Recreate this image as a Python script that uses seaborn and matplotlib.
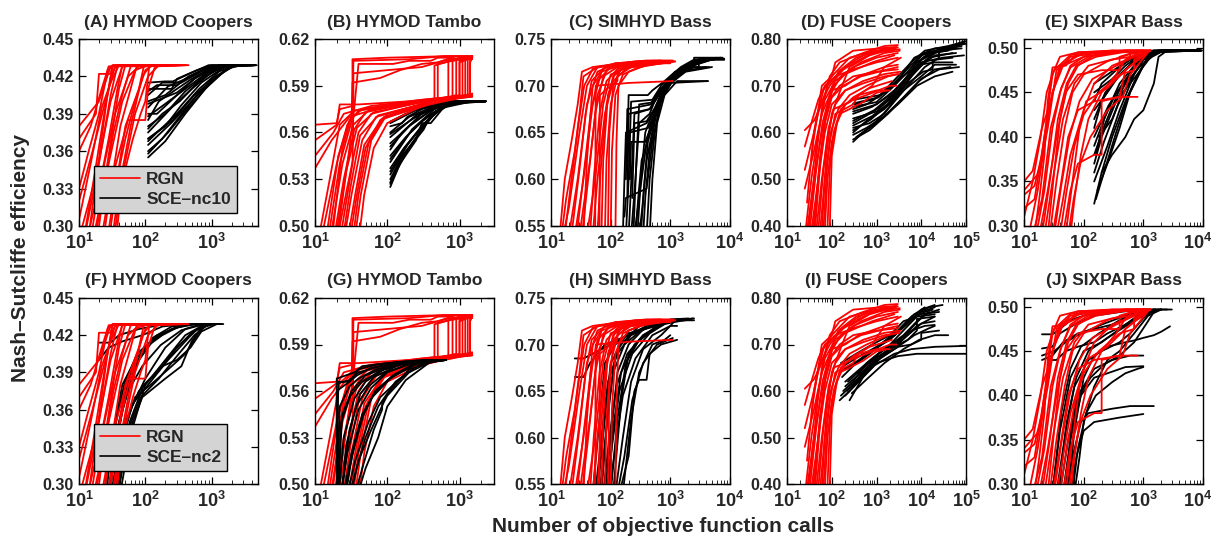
import math

import matplotlib
matplotlib.use("Agg")
import matplotlib.pyplot as plt
import pandas as pd
import seaborn as sns
from matplotlib.lines import Line2D
from matplotlib.ticker import FixedLocator, FuncFormatter, FormatStrFormatter, LogLocator, NullFormatter
from matplotlib.transforms import ScaledTranslation

# Best-so-far Nash-Sutcliffe efficiency against objective function calls.
# Each run is a list of (calls, NSE) breakpoints.

hymod_coopers_rgn = [
    [(10, 0.38), (20, 0.40), (30, 0.428), (120, 0.429)],
    [(10, 0.37), (18, 0.39), (20, 0.422), (30, 0.422), (32, 0.429), (90, 0.429)],
    [(10, 0.36), (15, 0.38), (22, 0.41), (28, 0.428), (60, 0.429)],
    [(10, 0.32), (16, 0.36), (25, 0.40), (35, 0.428), (200, 0.429)],
    [(10, 0.29), (18, 0.34), (30, 0.40), (45, 0.428), (150, 0.429)],
    [(12, 0.28), (22, 0.34), (35, 0.39), (55, 0.42), (80, 0.428), (300, 0.429)],
    [(15, 0.28), (28, 0.35), (45, 0.40), (70, 0.425), (110, 0.429), (450, 0.429)],
    [(20, 0.28), (32, 0.34), (55, 0.385), (100, 0.385), (110, 0.41), (140, 0.428), (400, 0.429)],
    [(25, 0.28), (35, 0.33), (50, 0.37), (70, 0.40), (100, 0.425), (130, 0.429), (250, 0.429)],
    [(30, 0.28), (40, 0.33), (60, 0.38), (90, 0.42), (120, 0.429), (350, 0.429)],
    [(12, 0.29), (20, 0.35), (30, 0.405), (38, 0.429), (80, 0.429)],
    [(18, 0.28), (25, 0.34), (40, 0.41), (50, 0.429), (180, 0.429)],
    [(35, 0.28), (45, 0.34), (70, 0.39), (110, 0.42), (160, 0.429), (300, 0.429)],
    [(10, 0.33), (14, 0.36), (20, 0.39), (27, 0.425), (33, 0.429), (100, 0.429)],
    [(11, 0.28), (17, 0.34), (24, 0.39), (30, 0.42), (36, 0.429), (130, 0.429)],
    [(14, 0.28), (20, 0.33), (28, 0.37), (38, 0.41), (45, 0.429), (220, 0.429)],
    [(16, 0.28), (24, 0.33), (33, 0.375), (45, 0.405), (60, 0.428), (280, 0.429)],
    [(22, 0.28), (30, 0.33), (42, 0.38), (60, 0.41), (75, 0.429), (320, 0.429)],
    [(27, 0.28), (38, 0.34), (50, 0.38), (80, 0.41), (95, 0.428), (420, 0.429)],
    [(10, 0.305), (15, 0.35), (22, 0.395), (30, 0.415), (40, 0.429), (170, 0.429)],
    [(32, 0.28), (42, 0.33), (65, 0.37), (85, 0.39), (100, 0.40), (115, 0.429), (200, 0.429)],
    [(13, 0.28), (19, 0.345), (26, 0.40), (32, 0.428), (70, 0.429)],
]

hymod_coopers_sce10 = [
    [(110, 0.41), (250, 0.41), (300, 0.418), (600, 0.425), (1000, 0.429), (4500, 0.429)],
    [(110, 0.40), (200, 0.405), (400, 0.418), (800, 0.426), (1500, 0.429), (4000, 0.429)],
    [(110, 0.39), (150, 0.39), (300, 0.405), (600, 0.42), (1200, 0.428), (3000, 0.429)],
    [(110, 0.38), (200, 0.39), (400, 0.408), (900, 0.423), (2000, 0.429), (4200, 0.429)],
    [(110, 0.37), (200, 0.38), (350, 0.397), (700, 0.415), (1500, 0.427), (2500, 0.429), (4500, 0.429)],
    [(110, 0.36), (180, 0.37), (300, 0.385), (600, 0.405), (1200, 0.42), (2200, 0.429), (4000, 0.429)],
    [(110, 0.355), (200, 0.368), (400, 0.39), (800, 0.41), (1600, 0.425), (2500, 0.429), (4500, 0.429)],
    [(110, 0.395), (220, 0.412), (500, 0.42), (900, 0.427), (1800, 0.429), (3500, 0.429)],
    [(110, 0.385), (160, 0.40), (300, 0.41), (500, 0.418), (1000, 0.427), (2000, 0.429), (4300, 0.429)],
    [(110, 0.375), (250, 0.395), (500, 0.41), (1100, 0.425), (2000, 0.429), (4000, 0.429)],
    [(110, 0.365), (250, 0.383), (500, 0.40), (1000, 0.418), (2000, 0.428), (4500, 0.429)],
    [(110, 0.405), (180, 0.415), (350, 0.415), (700, 0.424), (1300, 0.429), (3800, 0.429)],
    [(110, 0.358), (220, 0.375), (450, 0.395), (900, 0.413), (1800, 0.427), (3000, 0.429), (4800, 0.429)],
    [(110, 0.368), (150, 0.375), (300, 0.39), (650, 0.41), (1300, 0.424), (2300, 0.429), (4600, 0.429)],
    [(110, 0.378), (180, 0.39), (330, 0.40), (700, 0.418), (1400, 0.427), (2600, 0.429)],
    [(110, 0.388), (200, 0.398), (450, 0.412), (900, 0.424), (1600, 0.429), (4100, 0.429)],
    [(110, 0.398), (300, 0.407), (550, 0.418), (1000, 0.426), (1700, 0.429), (3900, 0.429)],
    [(110, 0.408), (150, 0.413), (300, 0.413), (450, 0.42), (850, 0.427), (1400, 0.429), (4400, 0.429)],
    [(110, 0.415), (200, 0.416), (260, 0.416), (500, 0.423), (900, 0.429), (3600, 0.429)],
    [(110, 0.37), (260, 0.385), (550, 0.405), (1200, 0.42), (2100, 0.428), (4200, 0.429)],
]

hymod_coopers_sce2 = [
    [(25, 0.28), (35, 0.33), (50, 0.37), (80, 0.40), (150, 0.42), (300, 0.426), (500, 0.429), (1000, 0.429)],
    [(28, 0.28), (40, 0.33), (60, 0.36), (100, 0.385), (200, 0.41), (400, 0.425), (700, 0.429), (1500, 0.429)],
    [(30, 0.28), (45, 0.34), (70, 0.37), (120, 0.38), (250, 0.395), (400, 0.405), (600, 0.42), (800, 0.429), (1400, 0.429)],
    [(32, 0.28), (50, 0.35), (80, 0.375), (150, 0.39), (300, 0.41), (500, 0.422), (900, 0.429), (1200, 0.429)],
    [(22, 0.28), (30, 0.33), (45, 0.38), (70, 0.40), (120, 0.415), (250, 0.425), (450, 0.429), (900, 0.429)],
    [(35, 0.28), (55, 0.34), (90, 0.37), (200, 0.385), (350, 0.395), (500, 0.415), (700, 0.426), (1100, 0.429)],
    [(27, 0.28), (40, 0.35), (60, 0.39), (100, 0.41), (180, 0.42), (350, 0.428), (600, 0.429)],
    [(20, 0.414), (30, 0.414), (40, 0.42), (80, 0.425), (200, 0.429), (500, 0.429)],
    [(38, 0.28), (60, 0.34), (100, 0.38), (200, 0.40), (400, 0.42), (800, 0.429), (1300, 0.429)],
    [(30, 0.30), (45, 0.36), (70, 0.395), (130, 0.418), (250, 0.427), (550, 0.429)],
    [(24, 0.28), (33, 0.34), (48, 0.38), (75, 0.405), (140, 0.418), (280, 0.426), (600, 0.429)],
    [(26, 0.28), (38, 0.345), (55, 0.375), (90, 0.395), (170, 0.412), (350, 0.424), (800, 0.429)],
    [(29, 0.28), (42, 0.33), (65, 0.365), (110, 0.38), (220, 0.40), (450, 0.418), (700, 0.428), (1000, 0.429)],
    [(33, 0.28), (52, 0.34), (85, 0.37), (160, 0.385), (320, 0.405), (550, 0.42), (900, 0.429)],
    [(20, 0.40), (28, 0.41), (45, 0.415), (90, 0.42), (180, 0.427), (400, 0.429)],
    [(36, 0.28), (58, 0.35), (95, 0.38), (180, 0.395), (300, 0.40), (480, 0.41), (700, 0.423), (1200, 0.429)],
]

hymod_tambo_rgn = [
    [(10, 0.565), (20, 0.566), (22, 0.575), (33, 0.577), (33, 0.607), (100, 0.608), (700, 0.609), (1500, 0.609)],
    [(10, 0.555), (20, 0.565), (22, 0.578), (40, 0.578), (200, 0.58), (500, 0.582), (500, 0.604), (1000, 0.607), (1500, 0.609)],
    [(10, 0.545), (18, 0.56), (25, 0.572), (60, 0.577), (300, 0.581), (800, 0.583), (800, 0.606), (1400, 0.608)],
    [(10, 0.537), (17, 0.555), (30, 0.57), (80, 0.576), (400, 0.581), (1200, 0.584), (1200, 0.607), (1500, 0.608)],
    [(12, 0.49), (20, 0.54), (28, 0.565), (40, 0.574), (150, 0.578), (600, 0.582), (1000, 0.584), (1000, 0.606), (1500, 0.609)],
    [(15, 0.49), (22, 0.54), (32, 0.567), (33, 0.592), (80, 0.595), (150, 0.60), (300, 0.604), (500, 0.605), (900, 0.609)],
    [(18, 0.49), (25, 0.53), (35, 0.562), (50, 0.573), (200, 0.579), (700, 0.582), (1500, 0.583)],
    [(20, 0.49), (28, 0.525), (40, 0.56), (60, 0.572), (300, 0.58), (1400, 0.584), (1400, 0.609), (1500, 0.609)],
    [(25, 0.49), (32, 0.52), (45, 0.555), (70, 0.57), (400, 0.58), (1300, 0.584), (1300, 0.608), (1500, 0.608)],
    [(30, 0.49), (38, 0.52), (50, 0.55), (80, 0.568), (500, 0.581), (1500, 0.584)],
    [(35, 0.49), (43, 0.52), (60, 0.555), (100, 0.572), (600, 0.582), (900, 0.584), (900, 0.607), (1500, 0.607)],
    [(20, 0.49), (30, 0.55), (35, 0.576), (40, 0.604), (120, 0.604), (200, 0.606), (400, 0.606), (500, 0.608), (800, 0.608)],
    [(22, 0.49), (33, 0.54), (34, 0.575), (34, 0.598), (100, 0.60), (300, 0.602), (600, 0.606), (1300, 0.609)],
    [(40, 0.49), (48, 0.52), (65, 0.55), (100, 0.566), (300, 0.577), (1000, 0.582), (1500, 0.583)],
    [(14, 0.49), (21, 0.545), (30, 0.568), (45, 0.575), (250, 0.58), (1000, 0.583), (1000, 0.605), (1500, 0.608)],
    [(16, 0.49), (24, 0.54), (34, 0.565), (55, 0.574), (350, 0.58), (1500, 0.584)],
    [(19, 0.49), (27, 0.535), (38, 0.563), (65, 0.573), (450, 0.581), (700, 0.583), (700, 0.606), (1500, 0.609)],
    [(24, 0.49), (31, 0.525), (42, 0.558), (75, 0.571), (550, 0.581), (1100, 0.583), (1100, 0.608), (1500, 0.609)],
    [(28, 0.49), (36, 0.52), (48, 0.552), (85, 0.569), (650, 0.581), (1500, 0.585)],
    [(11, 0.49), (16, 0.53), (22, 0.565), (35, 0.574), (120, 0.578), (450, 0.581), (450, 0.603), (900, 0.607), (1500, 0.608)],
    [(33, 0.49), (40, 0.52), (55, 0.553), (90, 0.57), (400, 0.58), (1400, 0.583), (1400, 0.605), (1500, 0.608)],
    [(17, 0.49), (24, 0.55), (33, 0.573), (34, 0.606), (200, 0.607), (600, 0.609), (1300, 0.609)],
]

hymod_tambo_sce10 = [
    [(110, 0.567), (180, 0.572), (400, 0.578), (800, 0.58), (2300, 0.58)],
    [(110, 0.56), (200, 0.57), (400, 0.576), (900, 0.58), (2000, 0.58)],
    [(110, 0.553), (200, 0.564), (400, 0.574), (700, 0.579), (2200, 0.58)],
    [(110, 0.545), (180, 0.557), (300, 0.567), (600, 0.577), (1000, 0.58), (2300, 0.58)],
    [(110, 0.537), (170, 0.55), (280, 0.562), (500, 0.574), (900, 0.58), (2100, 0.58)],
    [(110, 0.53), (160, 0.545), (250, 0.556), (300, 0.563), (400, 0.57), (700, 0.578), (2200, 0.58)],
    [(110, 0.525), (150, 0.54), (250, 0.555), (300, 0.566), (400, 0.566), (600, 0.576), (1500, 0.58), (2300, 0.58)],
    [(110, 0.541), (220, 0.562), (450, 0.575), (800, 0.58), (1900, 0.58)],
    [(110, 0.557), (250, 0.571), (500, 0.577), (1000, 0.58), (2300, 0.58)],
    [(110, 0.533), (190, 0.552), (330, 0.566), (650, 0.578), (1200, 0.58), (2200, 0.58)],
    [(110, 0.549), (160, 0.56), (300, 0.572), (600, 0.579), (2000, 0.58)],
    [(110, 0.564), (160, 0.566), (190, 0.57), (300, 0.575), (700, 0.58), (2300, 0.58)],
    [(110, 0.528), (155, 0.543), (260, 0.558), (450, 0.572), (800, 0.579), (2200, 0.58)],
    [(110, 0.535), (180, 0.551), (310, 0.565), (550, 0.576), (1100, 0.58), (2300, 0.58)],
    [(110, 0.543), (200, 0.559), (350, 0.57), (650, 0.578), (1300, 0.58)],
    [(110, 0.551), (210, 0.565), (420, 0.575), (750, 0.58), (2100, 0.58)],
    [(110, 0.559), (230, 0.569), (480, 0.577), (950, 0.58), (2300, 0.58)],
    [(110, 0.566), (240, 0.574), (520, 0.579), (1100, 0.58), (2200, 0.58)],
    [(110, 0.527), (140, 0.537), (200, 0.55), (320, 0.562), (360, 0.567), (500, 0.574), (900, 0.58), (2300, 0.58)],
]

hymod_tambo_sce2 = [
    [(20, 0.49), (20, 0.568), (35, 0.572), (45, 0.576), (100, 0.578), (300, 0.58), (650, 0.58)],
    [(20, 0.49), (21, 0.565), (30, 0.567), (40, 0.572), (80, 0.576), (200, 0.579), (600, 0.58)],
    [(20, 0.49), (22, 0.55), (30, 0.563), (40, 0.568), (70, 0.574), (150, 0.578), (650, 0.58)],
    [(21, 0.49), (25, 0.53), (35, 0.555), (50, 0.566), (90, 0.574), (200, 0.579), (500, 0.58)],
    [(22, 0.49), (28, 0.52), (40, 0.548), (60, 0.562), (100, 0.572), (250, 0.579), (650, 0.58)],
    [(24, 0.49), (32, 0.52), (45, 0.545), (70, 0.56), (120, 0.57), (300, 0.579), (600, 0.58)],
    [(27, 0.49), (36, 0.515), (55, 0.54), (80, 0.556), (150, 0.568), (300, 0.578), (650, 0.58)],
    [(30, 0.49), (40, 0.515), (60, 0.535), (90, 0.553), (100, 0.557), (200, 0.572), (400, 0.579), (650, 0.58)],
    [(34, 0.49), (45, 0.51), (65, 0.535), (85, 0.548), (85, 0.552), (100, 0.558), (200, 0.574), (500, 0.58)],
    [(20, 0.49), (24, 0.545), (32, 0.56), (50, 0.57), (120, 0.577), (400, 0.58)],
    [(23, 0.49), (30, 0.535), (42, 0.558), (65, 0.569), (150, 0.577), (450, 0.58)],
    [(37, 0.49), (50, 0.51), (75, 0.53), (100, 0.55), (180, 0.567), (400, 0.579), (650, 0.58)],
    [(20, 0.49), (20, 0.56), (28, 0.565), (38, 0.57), (60, 0.575), (140, 0.578), (500, 0.58)],
    [(21, 0.49), (23, 0.54), (31, 0.557), (45, 0.566), (80, 0.573), (180, 0.578), (600, 0.58)],
    [(23, 0.49), (27, 0.525), (37, 0.55), (55, 0.563), (95, 0.572), (220, 0.578), (650, 0.58)],
    [(25, 0.49), (30, 0.51), (42, 0.54), (62, 0.556), (110, 0.568), (260, 0.578), (650, 0.58)],
    [(29, 0.49), (35, 0.505), (50, 0.53), (75, 0.55), (130, 0.566), (280, 0.577), (600, 0.58)],
    [(20, 0.566), (30, 0.566), (40, 0.574), (70, 0.577), (160, 0.579), (400, 0.58)],
    [(26, 0.49), (33, 0.52), (47, 0.545), (68, 0.56), (120, 0.57), (240, 0.578), (550, 0.58)],
]

simhyd_bass_rgn = [
    [(15, 0.54), (18, 0.58), (25, 0.63), (30, 0.67), (35, 0.71), (60, 0.72), (200, 0.725), (500, 0.725)],
    [(16, 0.54), (20, 0.57), (30, 0.65), (40, 0.70), (60, 0.72), (300, 0.726), (900, 0.726)],
    [(20, 0.54), (28, 0.60), (40, 0.68), (60, 0.715), (120, 0.724), (400, 0.727), (1100, 0.727)],
    [(25, 0.54), (35, 0.60), (50, 0.68), (70, 0.715), (150, 0.722), (600, 0.725)],
    [(30, 0.54), (45, 0.62), (60, 0.69), (90, 0.72), (300, 0.725), (1100, 0.726)],
    [(40, 0.54), (55, 0.60), (75, 0.68), (100, 0.712), (200, 0.72), (500, 0.724)],
    [(50, 0.54), (60, 0.60), (80, 0.67), (110, 0.705), (180, 0.718), (250, 0.725), (800, 0.725)],
    [(55, 0.54), (56, 0.70), (200, 0.703), (1100, 0.705)],
    [(70, 0.54), (75, 0.62), (90, 0.69), (120, 0.715), (300, 0.724), (700, 0.726)],
    [(90, 0.54), (95, 0.65), (110, 0.70), (150, 0.718), (400, 0.722), (1000, 0.725)],
    [(120, 0.54), (125, 0.64), (135, 0.70), (200, 0.715), (400, 0.722), (1200, 0.726)],
    [(35, 0.54), (40, 0.62), (50, 0.70), (80, 0.72), (250, 0.725)],
    [(14, 0.54), (17, 0.60), (22, 0.64), (28, 0.68), (33, 0.715), (50, 0.72), (150, 0.724)],
    [(65, 0.54), (66, 0.69), (100, 0.70), (130, 0.705), (130, 0.718), (500, 0.724), (1000, 0.724)],
    [(17, 0.54), (22, 0.60), (29, 0.66), (36, 0.70), (50, 0.718), (120, 0.724), (400, 0.726)],
    [(22, 0.54), (30, 0.61), (38, 0.67), (48, 0.705), (80, 0.72), (250, 0.726), (700, 0.727)],
    [(27, 0.54), (36, 0.61), (46, 0.67), (60, 0.705), (100, 0.72), (350, 0.725), (1000, 0.726)],
    [(33, 0.54), (42, 0.60), (55, 0.67), (75, 0.71), (130, 0.72), (450, 0.725), (900, 0.726)],
    [(45, 0.54), (52, 0.60), (65, 0.67), (85, 0.705), (140, 0.72), (550, 0.725), (1200, 0.726)],
    [(60, 0.54), (68, 0.61), (85, 0.68), (110, 0.71), (170, 0.72), (600, 0.724)],
    [(80, 0.54), (85, 0.62), (100, 0.68), (130, 0.71), (220, 0.72), (800, 0.725)],
    [(100, 0.54), (105, 0.63), (120, 0.69), (160, 0.712), (300, 0.72), (1100, 0.726)],
]

simhyd_bass_sce10 = [
    [(180, 0.54), (200, 0.60), (220, 0.683), (500, 0.685), (700, 0.70), (1200, 0.715), (2000, 0.72), (3000, 0.728), (7000, 0.729)],
    [(200, 0.54), (230, 0.62), (250, 0.67), (450, 0.675), (700, 0.695), (1000, 0.703), (4300, 0.705)],
    [(220, 0.54), (260, 0.60), (300, 0.66), (450, 0.67), (600, 0.69), (1000, 0.71), (1800, 0.722), (3000, 0.728), (6000, 0.729)],
    [(250, 0.54), (300, 0.58), (400, 0.64), (500, 0.665), (700, 0.69), (1200, 0.712), (2000, 0.72), (5000, 0.728), (8000, 0.728)],
    [(280, 0.54), (320, 0.60), (380, 0.65), (500, 0.67), (800, 0.70), (1500, 0.718), (3000, 0.72), (3000, 0.728), (7000, 0.729)],
    [(300, 0.54), (340, 0.57), (400, 0.62), (550, 0.665), (900, 0.70), (1500, 0.715), (4000, 0.72)],
    [(350, 0.54), (380, 0.58), (450, 0.63), (600, 0.675), (1000, 0.703), (2000, 0.718), (3500, 0.728), (8000, 0.728)],
    [(190, 0.62), (200, 0.69), (420, 0.69), (500, 0.695), (800, 0.705), (1500, 0.72), (2500, 0.728), (5000, 0.729)],
    [(170, 0.56), (180, 0.58), (400, 0.59), (500, 0.64), (700, 0.685), (1200, 0.71), (2500, 0.722), (6000, 0.73)],
    [(210, 0.60), (220, 0.64), (380, 0.64), (500, 0.66), (700, 0.69), (1100, 0.71), (2200, 0.725), (4500, 0.728)],
    [(400, 0.54), (450, 0.60), (550, 0.65), (700, 0.685), (1200, 0.71), (2500, 0.72), (2500, 0.73), (7500, 0.73)],
    [(230, 0.58), (250, 0.66), (400, 0.662), (600, 0.68), (900, 0.70), (1800, 0.715), (5000, 0.72)],
    [(160, 0.54), (170, 0.60), (180, 0.65), (400, 0.66), (550, 0.675), (750, 0.695), (1300, 0.713), (2600, 0.725), (6500, 0.729)],
    [(190, 0.58), (200, 0.67), (450, 0.675), (650, 0.69), (1000, 0.705), (2000, 0.72), (4000, 0.728), (7500, 0.729)],
    [(240, 0.54), (270, 0.62), (300, 0.68), (480, 0.682), (700, 0.697), (1100, 0.71), (2200, 0.72), (4500, 0.72)],
    [(320, 0.54), (360, 0.59), (420, 0.64), (560, 0.67), (850, 0.697), (1400, 0.715), (2800, 0.726), (6000, 0.729)],
    [(260, 0.54), (290, 0.58), (330, 0.62), (460, 0.65), (650, 0.68), (1000, 0.703), (1700, 0.718), (3200, 0.728), (8000, 0.729)],
    [(200, 0.63), (210, 0.65), (430, 0.655), (560, 0.672), (800, 0.693), (1300, 0.712), (3000, 0.726), (5500, 0.728)],
    [(450, 0.54), (500, 0.60), (600, 0.66), (800, 0.69), (1300, 0.705), (4200, 0.705)],
    [(180, 0.60), (190, 0.675), (470, 0.68), (600, 0.69), (900, 0.703), (1600, 0.718), (3500, 0.728), (7000, 0.73)],
]

simhyd_bass_sce2 = [
    [(60, 0.54), (80, 0.62), (100, 0.68), (150, 0.70), (300, 0.72), (800, 0.726), (2500, 0.728)],
    [(70, 0.54), (90, 0.63), (120, 0.69), (200, 0.715), (500, 0.725), (1500, 0.727)],
    [(80, 0.54), (100, 0.60), (130, 0.67), (200, 0.70), (400, 0.72), (1000, 0.726), (2500, 0.726)],
    [(90, 0.54), (110, 0.61), (150, 0.67), (250, 0.70), (500, 0.715), (700, 0.722), (1000, 0.727), (2000, 0.728)],
    [(100, 0.54), (130, 0.62), (180, 0.68), (300, 0.705), (600, 0.72), (900, 0.725), (1800, 0.726)],
    [(140, 0.54), (200, 0.58), (250, 0.65), (300, 0.662), (400, 0.662), (450, 0.69), (700, 0.70), (1300, 0.705)],
    [(120, 0.54), (160, 0.60), (220, 0.66), (350, 0.695), (700, 0.71), (1000, 0.72), (1200, 0.726)],
    [(50, 0.54), (65, 0.62), (80, 0.68), (120, 0.70), (200, 0.712), (500, 0.72), (900, 0.726)],
    [(25, 0.685), (35, 0.685), (50, 0.69), (100, 0.70), (300, 0.715), (600, 0.72)],
    [(110, 0.54), (150, 0.64), (200, 0.69), (350, 0.71), (700, 0.722), (1500, 0.727)],
    [(25, 0.665), (35, 0.665), (45, 0.68), (80, 0.70), (200, 0.71), (400, 0.72)],
    [(160, 0.54), (220, 0.62), (300, 0.67), (500, 0.70), (800, 0.705), (1000, 0.71)],
    [(55, 0.54), (70, 0.60), (90, 0.66), (130, 0.69), (220, 0.71), (500, 0.72), (1200, 0.726)],
    [(65, 0.54), (85, 0.61), (110, 0.67), (170, 0.70), (320, 0.715), (700, 0.724), (2000, 0.727)],
    [(75, 0.54), (95, 0.60), (125, 0.655), (190, 0.69), (350, 0.71), (800, 0.722), (2400, 0.728)],
    [(85, 0.54), (105, 0.59), (140, 0.65), (230, 0.69), (450, 0.712), (900, 0.724), (1600, 0.727)],
    [(95, 0.54), (120, 0.59), (160, 0.645), (260, 0.685), (500, 0.71), (1000, 0.72), (1300, 0.72)],
    [(130, 0.54), (170, 0.58), (230, 0.64), (350, 0.68), (600, 0.70), (1100, 0.707)],
]

fuse_coopers_rgn = [
    [(25, 0.605), (40, 0.625), (60, 0.66), (80, 0.70), (150, 0.73), (500, 0.76), (1500, 0.78), (3000, 0.782)],
    [(25, 0.57), (35, 0.62), (50, 0.67), (70, 0.70), (120, 0.72), (300, 0.735), (1000, 0.75), (3000, 0.76)],
    [(25, 0.52), (40, 0.60), (55, 0.66), (90, 0.70), (200, 0.74), (600, 0.77), (2500, 0.775)],
    [(25, 0.48), (40, 0.56), (60, 0.64), (100, 0.69), (200, 0.70), (400, 0.72), (1500, 0.74), (3000, 0.745)],
    [(28, 0.39), (40, 0.50), (60, 0.60), (90, 0.67), (150, 0.70), (300, 0.72), (1000, 0.73), (3000, 0.735)],
    [(35, 0.39), (50, 0.50), (70, 0.60), (100, 0.66), (200, 0.69), (500, 0.705), (1500, 0.72), (3200, 0.725)],
    [(45, 0.39), (60, 0.50), (80, 0.59), (110, 0.65), (250, 0.665), (400, 0.68), (1000, 0.69), (2000, 0.69)],
    [(55, 0.39), (70, 0.50), (90, 0.58), (120, 0.64), (300, 0.66), (400, 0.68), (800, 0.70), (1500, 0.74), (3500, 0.76)],
    [(70, 0.39), (80, 0.50), (100, 0.58), (150, 0.64), (250, 0.65), (500, 0.665), (1000, 0.685), (1700, 0.69)],
    [(30, 0.39), (45, 0.55), (60, 0.65), (90, 0.72), (150, 0.75), (500, 0.77), (1500, 0.785), (3000, 0.787)],
    [(40, 0.39), (55, 0.55), (75, 0.64), (110, 0.70), (200, 0.725), (800, 0.75), (2500, 0.765)],
    [(90, 0.39), (100, 0.55), (130, 0.62), (200, 0.66), (300, 0.67), (600, 0.68), (2000, 0.70), (2800, 0.70)],
    [(60, 0.39), (75, 0.55), (100, 0.64), (170, 0.70), (250, 0.74), (700, 0.765), (2500, 0.78)],
    [(35, 0.54), (40, 0.60), (50, 0.65), (60, 0.70), (100, 0.72), (120, 0.75), (300, 0.775), (1200, 0.78), (2800, 0.783)],
    [(26, 0.39), (35, 0.50), (50, 0.60), (70, 0.67), (120, 0.71), (300, 0.74), (1000, 0.76), (3000, 0.77)],
    [(32, 0.39), (45, 0.52), (62, 0.62), (90, 0.68), (160, 0.72), (450, 0.75), (1500, 0.77), (3300, 0.775)],
    [(38, 0.39), (52, 0.52), (70, 0.62), (100, 0.675), (180, 0.70), (450, 0.72), (1800, 0.735), (3000, 0.74)],
    [(50, 0.39), (65, 0.52), (85, 0.61), (120, 0.66), (200, 0.69), (500, 0.71), (1500, 0.725), (3400, 0.73)],
    [(65, 0.39), (78, 0.52), (95, 0.60), (140, 0.65), (250, 0.68), (600, 0.70), (1800, 0.72), (3000, 0.725)],
    [(80, 0.39), (90, 0.52), (110, 0.60), (160, 0.65), (300, 0.675), (700, 0.695), (2200, 0.71)],
    [(28, 0.45), (36, 0.56), (48, 0.64), (65, 0.69), (100, 0.72), (250, 0.76), (900, 0.775), (2700, 0.78)],
    [(42, 0.39), (56, 0.54), (72, 0.63), (95, 0.69), (140, 0.73), (350, 0.76), (1200, 0.775), (3300, 0.778)],
]

fuse_coopers_sce10 = [
    [(300, 0.58), (500, 0.60), (1000, 0.62), (3000, 0.66), (8000, 0.70), (20000, 0.72), (50000, 0.73)],
    [(300, 0.60), (600, 0.625), (1500, 0.65), (4000, 0.69), (10000, 0.72), (20000, 0.745), (60000, 0.745)],
    [(300, 0.62), (700, 0.64), (2000, 0.67), (5000, 0.71), (10000, 0.75), (30000, 0.76), (90000, 0.765)],
    [(300, 0.64), (800, 0.655), (2000, 0.68), (4000, 0.71), (8000, 0.75), (15000, 0.77), (40000, 0.775)],
    [(300, 0.655), (1000, 0.665), (2500, 0.70), (5000, 0.73), (10000, 0.765), (30000, 0.78), (90000, 0.79)],
    [(300, 0.67), (1200, 0.68), (3000, 0.72), (6000, 0.75), (12000, 0.775), (40000, 0.785), (100000, 0.795)],
    [(300, 0.61), (700, 0.62), (1500, 0.64), (3000, 0.68), (6000, 0.72), (15000, 0.76), (50000, 0.77)],
    [(300, 0.63), (1000, 0.645), (3000, 0.69), (8000, 0.74), (20000, 0.77), (60000, 0.78)],
    [(350, 0.59), (800, 0.615), (2000, 0.655), (5000, 0.70), (12000, 0.74), (25000, 0.76), (25000, 0.775), (80000, 0.78)],
    [(300, 0.65), (600, 0.66), (1500, 0.685), (3500, 0.72), (7000, 0.76), (20000, 0.78), (70000, 0.785)],
    [(320, 0.66), (900, 0.672), (2000, 0.695), (4500, 0.725), (9000, 0.745), (20000, 0.75), (50000, 0.75)],
    [(300, 0.595), (600, 0.61), (1500, 0.635), (4000, 0.675), (9000, 0.71), (20000, 0.735), (45000, 0.74)],
    [(300, 0.585), (700, 0.605), (1800, 0.64), (4500, 0.68), (10000, 0.715), (25000, 0.735), (70000, 0.74)],
    [(300, 0.605), (750, 0.628), (1800, 0.66), (4000, 0.70), (9000, 0.74), (20000, 0.765), (60000, 0.77)],
    [(300, 0.625), (900, 0.648), (2200, 0.68), (5000, 0.72), (10000, 0.755), (25000, 0.775), (80000, 0.785)],
    [(300, 0.645), (1000, 0.66), (2500, 0.69), (5500, 0.725), (11000, 0.76), (30000, 0.78), (100000, 0.79)],
    [(300, 0.662), (1100, 0.675), (2800, 0.71), (6000, 0.745), (12000, 0.77), (35000, 0.78), (90000, 0.795)],
    [(300, 0.615), (800, 0.635), (2000, 0.665), (5000, 0.705), (11000, 0.73), (18000, 0.735), (18000, 0.755), (50000, 0.76)],
]

fuse_coopers_sce2 = [
    [(150, 0.58), (250, 0.60), (500, 0.64), (1000, 0.67), (3000, 0.70), (8000, 0.74), (20000, 0.76)],
    [(180, 0.60), (300, 0.62), (600, 0.66), (1500, 0.69), (4000, 0.72), (8000, 0.75), (15000, 0.77)],
    [(200, 0.62), (400, 0.645), (800, 0.67), (2000, 0.70), (5000, 0.74), (10000, 0.77), (20000, 0.78)],
    [(150, 0.64), (300, 0.655), (700, 0.68), (1500, 0.705), (3000, 0.73), (6000, 0.76), (12000, 0.78)],
    [(250, 0.58), (500, 0.63), (1000, 0.66), (3000, 0.675), (8000, 0.68), (30000, 0.68), (100000, 0.68)],
    [(200, 0.59), (400, 0.62), (900, 0.655), (2500, 0.68), (6000, 0.69), (20000, 0.695), (100000, 0.697)],
    [(160, 0.66), (350, 0.68), (800, 0.70), (2000, 0.72), (4000, 0.75), (8000, 0.76), (20000, 0.765)],
    [(300, 0.61), (600, 0.64), (1200, 0.67), (3000, 0.695), (7000, 0.72), (15000, 0.735), (20000, 0.74)],
    [(170, 0.63), (350, 0.66), (700, 0.685), (2000, 0.71), (5000, 0.75), (9000, 0.765), (25000, 0.77)],
    [(220, 0.60), (450, 0.635), (1000, 0.665), (3000, 0.695), (6000, 0.70), (10000, 0.71), (10000, 0.725), (25000, 0.73)],
    [(400, 0.64), (900, 0.67), (2000, 0.69), (5000, 0.71), (8000, 0.73), (8000, 0.755), (20000, 0.76)],
    [(250, 0.65), (500, 0.67), (1200, 0.70), (3000, 0.73), (7000, 0.765), (15000, 0.78), (30000, 0.785)],
    [(160, 0.59), (300, 0.615), (700, 0.65), (1800, 0.685), (5000, 0.72), (10000, 0.745), (20000, 0.75)],
    [(200, 0.61), (400, 0.635), (900, 0.665), (2500, 0.70), (6000, 0.735), (12000, 0.765), (25000, 0.775)],
    [(180, 0.645), (380, 0.665), (900, 0.69), (2200, 0.715), (5000, 0.745), (10000, 0.775), (20000, 0.785)],
    [(230, 0.62), (500, 0.65), (1100, 0.68), (2800, 0.705), (6000, 0.73), (12000, 0.74), (20000, 0.742)],
    [(280, 0.595), (600, 0.625), (1500, 0.66), (4000, 0.69), (9000, 0.71), (20000, 0.72), (40000, 0.72)],
    [(190, 0.655), (420, 0.675), (1000, 0.695), (2600, 0.72), (6000, 0.755), (12000, 0.77), (18000, 0.775)],
]

sixpar_bass_rgn = [
    [(10, 0.335), (15, 0.345), (20, 0.38), (25, 0.43), (30, 0.47), (40, 0.49), (80, 0.495), (300, 0.497), (1200, 0.497)],
    [(10, 0.34), (18, 0.36), (25, 0.41), (35, 0.475), (40, 0.478), (60, 0.49), (200, 0.495), (800, 0.497)],
    [(10, 0.35), (14, 0.362), (20, 0.41), (28, 0.44), (40, 0.48), (100, 0.495), (1000, 0.497)],
    [(10, 0.32), (15, 0.33), (22, 0.40), (30, 0.45), (45, 0.48), (150, 0.495), (1300, 0.497)],
    [(14, 0.29), (20, 0.33), (28, 0.41), (40, 0.45), (60, 0.48), (100, 0.49), (300, 0.495), (1100, 0.497)],
    [(18, 0.29), (25, 0.34), (35, 0.40), (50, 0.45), (80, 0.47), (200, 0.475), (400, 0.475), (400, 0.49), (700, 0.495), (1300, 0.497)],
    [(22, 0.29), (30, 0.35), (45, 0.42), (70, 0.46), (120, 0.48), (300, 0.487), (600, 0.49), (600, 0.496), (1200, 0.497)],
    [(30, 0.29), (40, 0.34), (55, 0.40), (80, 0.43), (150, 0.44), (400, 0.445), (800, 0.445)],
    [(35, 0.29), (45, 0.33), (60, 0.38), (100, 0.43), (150, 0.46), (300, 0.48), (700, 0.49), (1300, 0.497)],
    [(25, 0.29), (32, 0.36), (40, 0.42), (55, 0.46), (80, 0.48), (150, 0.492), (500, 0.497), (1000, 0.497)],
    [(45, 0.29), (60, 0.34), (80, 0.37), (150, 0.38), (200, 0.38), (200, 0.44), (400, 0.445), (500, 0.475), (900, 0.49), (1300, 0.497)],
    [(15, 0.29), (18, 0.33), (22, 0.38), (25, 0.44), (30, 0.478), (50, 0.48), (80, 0.495), (600, 0.497)],
    [(60, 0.29), (70, 0.33), (90, 0.38), (120, 0.42), (200, 0.45), (350, 0.47), (500, 0.487), (1000, 0.497)],
    [(50, 0.29), (65, 0.35), (85, 0.41), (110, 0.44), (250, 0.455), (500, 0.475), (1300, 0.497)],
    [(12, 0.29), (17, 0.34), (23, 0.40), (30, 0.45), (42, 0.48), (90, 0.493), (500, 0.497), (1100, 0.497)],
    [(16, 0.29), (22, 0.34), (30, 0.41), (42, 0.455), (60, 0.478), (120, 0.49), (400, 0.496), (1200, 0.497)],
    [(20, 0.29), (27, 0.35), (37, 0.42), (52, 0.46), (75, 0.48), (160, 0.49), (450, 0.495), (1300, 0.497)],
    [(27, 0.29), (35, 0.35), (48, 0.41), (65, 0.45), (100, 0.47), (250, 0.485), (600, 0.493), (1300, 0.497)],
    [(32, 0.29), (42, 0.345), (58, 0.40), (85, 0.44), (140, 0.465), (350, 0.48), (800, 0.492), (1300, 0.497)],
    [(40, 0.29), (52, 0.34), (70, 0.39), (100, 0.425), (180, 0.45), (400, 0.47), (700, 0.475), (700, 0.487), (1300, 0.497)],
    [(10, 0.31), (14, 0.35), (19, 0.40), (24, 0.45), (32, 0.475), (60, 0.492), (300, 0.497), (900, 0.497)],
    [(55, 0.29), (68, 0.33), (88, 0.37), (130, 0.40), (250, 0.43), (450, 0.445), (600, 0.47), (1200, 0.495)],
]

sixpar_bass_sce10 = [
    [(150, 0.325), (200, 0.36), (300, 0.40), (500, 0.44), (800, 0.47), (1200, 0.49), (2000, 0.497), (9000, 0.497)],
    [(150, 0.35), (250, 0.39), (400, 0.43), (700, 0.47), (1000, 0.487), (1800, 0.497), (8000, 0.497)],
    [(150, 0.37), (200, 0.40), (350, 0.44), (600, 0.47), (900, 0.49), (1500, 0.497), (9000, 0.497)],
    [(150, 0.39), (250, 0.43), (400, 0.46), (700, 0.48), (1200, 0.495), (2000, 0.497), (8500, 0.497)],
    [(150, 0.41), (200, 0.44), (300, 0.46), (500, 0.475), (800, 0.49), (1500, 0.497), (9000, 0.497)],
    [(150, 0.43), (250, 0.45), (400, 0.47), (700, 0.485), (1000, 0.495), (7000, 0.497)],
    [(150, 0.45), (300, 0.465), (500, 0.48), (800, 0.49), (1300, 0.497), (9500, 0.497)],
    [(200, 0.36), (300, 0.38), (500, 0.40), (700, 0.42), (1000, 0.43), (1500, 0.46), (1800, 0.49), (2500, 0.497), (9000, 0.497)],
    [(170, 0.34), (250, 0.37), (400, 0.41), (600, 0.45), (1000, 0.48), (1500, 0.495), (8000, 0.497)],
    [(160, 0.38), (220, 0.42), (350, 0.45), (500, 0.46), (900, 0.48), (1400, 0.49), (2200, 0.497), (9000, 0.497)],
    [(180, 0.40), (300, 0.42), (450, 0.45), (600, 0.46), (900, 0.475), (1300, 0.495), (8000, 0.497)],
    [(150, 0.44), (200, 0.46), (350, 0.475), (600, 0.487), (1000, 0.493), (1800, 0.497), (9500, 0.497)],
    [(160, 0.33), (230, 0.365), (350, 0.405), (550, 0.445), (900, 0.475), (1400, 0.492), (2300, 0.497), (9000, 0.497)],
    [(150, 0.36), (220, 0.395), (370, 0.435), (650, 0.468), (1100, 0.49), (1900, 0.497), (8500, 0.497)],
    [(150, 0.38), (230, 0.415), (380, 0.45), (650, 0.475), (1100, 0.492), (1800, 0.497), (9500, 0.497)],
    [(150, 0.40), (260, 0.435), (450, 0.46), (750, 0.48), (1200, 0.493), (2000, 0.497), (8000, 0.497)],
    [(150, 0.42), (230, 0.45), (380, 0.468), (650, 0.482), (1100, 0.494), (1700, 0.497), (9000, 0.497)],
    [(150, 0.46), (250, 0.47), (450, 0.482), (750, 0.49), (1200, 0.496), (9000, 0.497)],
]

sixpar_bass_sce2 = [
    [(20, 0.469), (30, 0.469), (40, 0.475), (60, 0.485), (100, 0.49), (300, 0.495), (1000, 0.497), (3000, 0.497)],
    [(20, 0.453), (30, 0.455), (40, 0.47), (70, 0.48), (150, 0.49), (500, 0.495), (1500, 0.497)],
    [(20, 0.44), (30, 0.445), (45, 0.46), (80, 0.47), (150, 0.475), (300, 0.48), (600, 0.49), (1500, 0.497), (2500, 0.497)],
    [(30, 0.29), (40, 0.36), (60, 0.42), (100, 0.45), (200, 0.46), (400, 0.475), (800, 0.49), (1600, 0.497)],
    [(40, 0.29), (55, 0.35), (80, 0.40), (150, 0.43), (300, 0.44), (600, 0.445), (1000, 0.445)],
    [(50, 0.29), (65, 0.33), (90, 0.37), (120, 0.38), (300, 0.385), (600, 0.388), (1500, 0.388)],
    [(60, 0.29), (75, 0.33), (100, 0.36), (150, 0.37), (400, 0.375), (1000, 0.379)],
    [(45, 0.29), (60, 0.35), (90, 0.40), (150, 0.42), (250, 0.425), (500, 0.432), (1000, 0.433)],
    [(35, 0.29), (50, 0.36), (70, 0.41), (120, 0.44), (250, 0.455), (500, 0.46), (700, 0.462), (1000, 0.465), (1500, 0.468), (2000, 0.472), (2800, 0.478)],
    [(70, 0.29), (85, 0.33), (100, 0.37), (150, 0.41), (250, 0.44), (400, 0.45), (700, 0.47), (1200, 0.49), (2000, 0.497)],
    [(55, 0.29), (70, 0.36), (100, 0.42), (150, 0.445), (200, 0.45), (400, 0.46), (600, 0.47), (1000, 0.487), (1500, 0.497)],
    [(25, 0.44), (35, 0.44), (50, 0.45), (80, 0.455), (150, 0.46), (250, 0.47), (500, 0.48), (1000, 0.493), (2000, 0.497)],
    [(30, 0.29), (42, 0.38), (60, 0.43), (90, 0.455), (180, 0.47), (400, 0.485), (900, 0.495), (2000, 0.497)],
    [(38, 0.29), (52, 0.37), (75, 0.42), (120, 0.45), (250, 0.465), (500, 0.478), (1000, 0.49), (1800, 0.497)],
    [(48, 0.29), (62, 0.36), (85, 0.40), (130, 0.42), (220, 0.435), (400, 0.445), (700, 0.46), (1100, 0.48), (1600, 0.497)],
    [(65, 0.29), (80, 0.34), (110, 0.38), (160, 0.40), (300, 0.415), (500, 0.425), (800, 0.43), (1000, 0.432)],
    [(20, 0.445), (32, 0.45), (50, 0.46), (90, 0.47), (200, 0.48), (500, 0.49), (1200, 0.497)],
]

# Panel settings per column
titles_top = ["(A) HYMOD Coopers", "(B) HYMOD Tambo", "(C) SIMHYD Bass", "(D) FUSE Coopers", "(E) SIXPAR Bass"]
titles_bottom = ["(F) HYMOD Coopers", "(G) HYMOD Tambo", "(H) SIMHYD Bass", "(I) FUSE Coopers", "(J) SIXPAR Bass"]
rgn_runs = [hymod_coopers_rgn, hymod_tambo_rgn, simhyd_bass_rgn, fuse_coopers_rgn, sixpar_bass_rgn]
sce10_runs = [hymod_coopers_sce10, hymod_tambo_sce10, simhyd_bass_sce10, fuse_coopers_sce10, sixpar_bass_sce10]
sce2_runs = [hymod_coopers_sce2, hymod_tambo_sce2, simhyd_bass_sce2, fuse_coopers_sce2, sixpar_bass_sce2]
x_max = [5000, 3000, 1e4, 1e5, 1e4]
y_lims = [(0.30, 0.45), (0.50, 0.62), (0.55, 0.75), (0.40, 0.80), (0.30, 0.51)]
y_ticks = [
    [0.30, 0.33, 0.36, 0.39, 0.42, 0.45],
    [0.50, 0.53, 0.56, 0.59, 0.62],
    [0.55, 0.60, 0.65, 0.70, 0.75],
    [0.40, 0.50, 0.60, 0.70, 0.80],
    [0.30, 0.35, 0.40, 0.45, 0.50],
]

TEXT = "#262626"
sns.set_style("white")
plt.rcParams["font.family"] = ["Liberation Sans", "DejaVu Sans"]
plt.rcParams.update({
    "font.weight": "bold",
    "mathtext.fontset": "custom",
    "mathtext.rm": "Liberation Sans:bold",
    "mathtext.bf": "Liberation Sans:bold",
    "mathtext.it": "Liberation Sans:bold",
    "xtick.direction": "in",
    "ytick.direction": "in",
    "xtick.top": True,
    "ytick.right": True,
    "xtick.bottom": True,
    "ytick.left": True,
    "axes.edgecolor": "black",
    "axes.linewidth": 1.0,
})


def runs_frame(runs):
    rows = []
    for i, run in enumerate(runs):
        for step, (calls, nse) in enumerate(run):
            rows.append((i, step, calls, nse))
    return pd.DataFrame(rows, columns=["run", "step", "calls", "nse"])


def decade_label(v, pos):
    return r"$\mathbf{10^{%d}}$" % round(math.log10(v))


def draw_panel(ax, title, rgn, sce, xmax, ylim, yticks, red_on_top=True):
    layers = [(sce, "black"), (rgn, "red")]
    if not red_on_top:
        layers = layers[::-1]
    for runs, color in layers:
        sns.lineplot(data=runs_frame(runs), x="calls", y="nse", units="run",
                     estimator=None, sort=False, color=color, lw=1.3,
                     legend=False, ax=ax)
    ax.set_xscale("log")
    ax.set_xlim(10, xmax)
    ax.set_ylim(*ylim)
    ax.set_xlabel("")
    ax.set_ylabel("")
    ax.xaxis.set_major_locator(LogLocator(base=10, numticks=10))
    ax.xaxis.set_minor_locator(LogLocator(base=10, subs=range(2, 10), numticks=20))
    ax.xaxis.set_minor_formatter(NullFormatter())
    ax.xaxis.set_major_formatter(FuncFormatter(decade_label))
    ax.yaxis.set_major_locator(FixedLocator(yticks))
    ax.yaxis.set_major_formatter(FormatStrFormatter("%.2f"))
    ax.tick_params(axis="both", which="major", length=5, width=0.9, colors="black",
                   labelcolor=TEXT, top=True, right=True)
    ax.tick_params(axis="both", which="minor", length=2.6, width=0.7, top=True, right=True)
    ax.tick_params(axis="x", which="major", labelsize=13, pad=5)
    ax.tick_params(axis="y", which="major", labelsize=11.5, pad=4)
    for lab in ax.get_yticklabels():
        lab.set_fontweight("bold")
    for sp in ax.spines.values():
        sp.set_color("black")
        sp.set_linewidth(1.0)
    ax.set_title(title, fontsize=12.5, fontweight="bold", color=TEXT, pad=9)


fig = plt.figure(figsize=(12.14, 5.41), dpi=100)
W, H = 1214.0, 541.0
lefts = [79, 315, 551, 787, 1024]
panel_w = 179
rows = [(39, 226), (298, 484)]
right_axes = []

for r, (top, bottom) in enumerate(rows):
    for c in range(5):
        ax = fig.add_axes([lefts[c] / W, 1 - bottom / H, panel_w / W, (bottom - top) / H])
        title = titles_top[c] if r == 0 else titles_bottom[c]
        sce = sce10_runs[c] if r == 0 else sce2_runs[c]
        red_on_top = not (r == 1 and c == 1)
        draw_panel(ax, title, rgn_runs[c], sce, x_max[c], y_lims[c], y_ticks[c], red_on_top)
        if c == 4:
            right_axes.append(ax)
        if c == 0:
            handles = [Line2D([], [], color="red", lw=1.2),
                       Line2D([], [], color="black", lw=1.2)]
            labels = ["RGN", "SCE–nc10" if r == 0 else "SCE–nc2"]
            leg = ax.legend(handles, labels, loc="lower left", bbox_to_anchor=(0.084, 0.07),
                            borderaxespad=0, frameon=True, fancybox=False, framealpha=1,
                            facecolor="#d4d4d4", edgecolor="black",
                            prop={"weight": "bold", "size": 12.5},
                            handlelength=2.3, handletextpad=0.35, borderpad=0.35,
                            labelspacing=0.25)
            leg.get_frame().set_linewidth(1.0)
            for t in leg.get_texts():
                t.set_color(TEXT)

fig.text(21 / W, 1 - 258 / H, "Nash–Sutcliffe efficiency", rotation=90, ha="center", va="center",
         fontsize=15, fontweight="bold", color=TEXT)
fig.text(663 / W, 1 - 527 / H, "Number of objective function calls", ha="center", va="center",
         fontsize=15, fontweight="bold", color=TEXT)

# keep the last decade label of the right-hand column inside the canvas
fig.canvas.draw()
nudge = ScaledTranslation(-5 / 100, 0, fig.dpi_scale_trans)
for ax in right_axes:
    for tick in ax.xaxis.get_major_ticks():
        if abs(tick.get_loc() - 1e4) < 1:
            tick.label1.set_transform(tick.label1.get_transform() + nudge)

fig.savefig("out.png", dpi=100)
